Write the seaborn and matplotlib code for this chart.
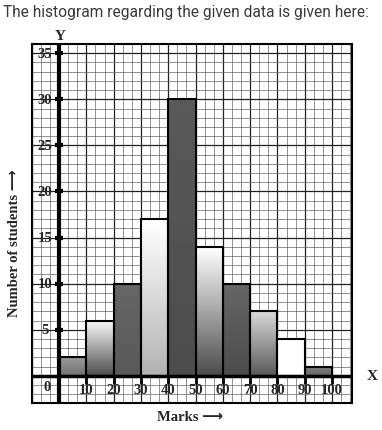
import numpy as np
import pandas as pd
import seaborn as sns
import matplotlib.pyplot as plt

# data
class_starts = [0, 10, 20, 30, 40, 50, 60, 70, 80, 90]
students = [2, 6, 10, 17, 30, 14, 10, 7, 4, 1]
bin_edges = [0, 10, 20, 30, 40, 50, 60, 70, 80, 90, 100]
y_ticks = [5, 10, 15, 20, 25, 30, 35]
x_ticks = [10, 20, 30, 40, 50, 60, 70, 80, 90, 100]

# grey shade of each bar, top -> bottom (scanned print look)
shade_top = [0.60, 0.98, 0.40, 1.0, 0.35, 1.0, 0.40, 0.85, 1.0, 0.50]
shade_bottom = [0.45, 0.30, 0.35, 0.70, 0.30, 0.30, 0.30, 0.35, 1.0, 0.40]

df = pd.DataFrame({"marks": [s + 5 for s in class_starts], "students": students})

sns.set_style("white")
fig = plt.figure(figsize=(3.82, 4.31), dpi=100)
ax = fig.add_axes([32 / 382, 1 - 404 / 431, (352 - 32) / 382, (404 - 45) / 431])

sns.histplot(data=df, x="marks", weights="students", bins=bin_edges,
             element="bars", fill=True, color="white", edgecolor="black",
             linewidth=1.5, alpha=1, ax=ax, zorder=3)

x0, x1 = -9.9, 107.3
y0, y1 = -2.95, 36.0

# graph paper
for gx in np.arange(-10, 108, 10 / 3):
    major = abs(gx / 10 - round(gx / 10)) < 1e-6
    ax.axvline(gx, color="#222" if major else "#666", lw=0.9 if major else 0.5, zorder=1)
for gy in range(-3, 37):
    ax.axhline(gy, color="#222" if gy % 5 == 0 else "#666",
               lw=0.9 if gy % 5 == 0 else 0.5, zorder=1)

# gradient fill clipped to each bar
for p, t, b in zip(ax.patches, shade_top, shade_bottom):
    bx, by = p.get_x(), p.get_y()
    w, h = p.get_width(), p.get_height()
    grad = np.linspace(t, b, 50).reshape(-1, 1)
    im = ax.imshow(grad, cmap="gray", vmin=0, vmax=1, aspect="auto",
                   extent=(bx, bx + w, by, by + h), zorder=3.5)
    im.set_clip_path(p)
    p.set_facecolor("none")
    p.set_zorder(4)

ax.set_xlim(x0, x1)
ax.set_ylim(y0, y1)

# axes lines and tick marks
ax.axhline(0, color="black", lw=2.5, zorder=5)
ax.axvline(0, color="black", lw=3, zorder=5)
ax.hlines(y_ticks, -1.6, 1.6, color="black", lw=3, zorder=6)
ax.vlines(x_ticks, -0.9, 0, color="black", lw=2, zorder=6)

serif = dict(family="Liberation Serif", fontweight="bold", fontsize=10.5)
for v in y_ticks:
    ax.text(-5.1, v, str(v), ha="center", va="center", zorder=7, **serif)
for v in x_ticks:
    ax.text(v, -1.5, str(v), ha="center", va="center", zorder=7, **serif)
ax.text(-4.4, -1.2, "0", ha="center", va="center", zorder=7, **serif)

ax.set_xticks([])
ax.set_yticks([])
ax.set_xlabel("")
ax.set_ylabel("")
for s in ax.spines.values():
    s.set_color("black")
    s.set_linewidth(1.5)
    s.set_visible(True)

fig.text(60 / 382, 1 - 37 / 431, "Y", ha="center", va="center",
         family="Liberation Serif", fontweight="bold", fontsize=11)
fig.text(372 / 382, 1 - 377 / 431, "X", ha="center", va="center",
         family="Liberation Serif", fontweight="bold", fontsize=11)
fig.text(190 / 382, 1 - 418 / 431, "Marks ⟶", ha="center", va="center",
         family=["Liberation Serif", "DejaVu Sans"], fontweight="bold", fontsize=10.5)
fig.text(15 / 382, 1 - 243 / 431, "Number of students ⟶", ha="center", va="center",
         rotation=90, family=["Liberation Serif", "DejaVu Sans"], fontweight="bold",
         fontsize=10.5)
fig.text(3 / 382, 1 - 13 / 431, "The histogram regarding the given data is given here:",
         ha="left", va="center", family="Roboto", fontsize=11.2, color="#3a3a3a")

fig.savefig("out.png", dpi=100)
